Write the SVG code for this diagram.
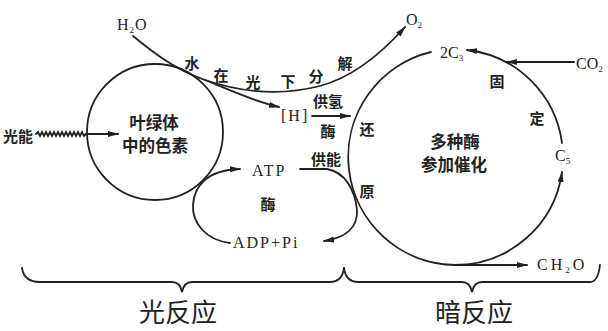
<svg xmlns="http://www.w3.org/2000/svg" width="608" height="331" viewBox="0 0 608 331">
<style>
.ln{fill:none;stroke:#222;stroke-width:1.8;stroke-linecap:round}
.ar{marker-end:url(#ah)}
.cn{font-family:"Noto Sans CJK SC","Noto Sans",sans-serif;fill:#222;text-anchor:middle;dominant-baseline:central;font-weight:700}
.big{font-family:"Noto Sans CJK SC","Noto Sans",sans-serif;fill:#222;text-anchor:middle;font-size:26px}
.lt{font-family:"Liberation Serif","Times New Roman",serif;fill:#222;font-size:16px}
</style>
<defs>
<marker id="ah" markerWidth="11" markerHeight="7" refX="10" refY="3.5" orient="auto" markerUnits="userSpaceOnUse">
<path d="M0,0.5 L11,3.5 L0,6.5 Z" fill="#222"/>
</marker>
</defs>
<rect width="608" height="331" fill="#fff"/>

<g id="chloroplast">
<circle cx="155" cy="132" r="68" class="ln"/>
<text class="cn" x="154" y="122" font-size="16.5">叶绿体</text>
<text class="cn" x="155" y="145" font-size="16.5">中的色素</text>
</g>

<g id="dark-cycle">
<text class="cn" x="455" y="141" font-size="16.5">多种酶</text>
<text class="cn" x="454" y="164" font-size="16.5">参加催化</text>
<text class="cn" x="497" y="80" font-size="15">固</text>
<text class="cn" x="537" y="117" font-size="15">定</text>
</g>

<g id="labels">
<text class="lt" x="117" y="30" letter-spacing="1">H<tspan font-size="9" dy="3">2</tspan><tspan dy="-3">O</tspan></text>
<text class="lt" x="406" y="25">O<tspan font-size="9" dy="3">2</tspan></text>
<text class="lt" x="440" y="58">2C<tspan font-size="9" dy="3">3</tspan></text>
<text class="lt" x="576" y="69">CO<tspan font-size="9" dy="3">2</tspan></text>
<text class="lt" x="555" y="161">C<tspan font-size="9" dy="3">5</tspan></text>
<text class="lt" x="537" y="270" letter-spacing="3">CH<tspan font-size="9" dy="3">2</tspan><tspan dy="-3">O</tspan></text>
<text class="lt" x="281" y="121" font-size="17" letter-spacing="2">[H]</text>
<text class="lt" x="252" y="176" font-size="17" letter-spacing="2">ATP</text>
<text class="lt" x="233" y="248" font-size="17" letter-spacing="2">ADP+Pi</text>
<text class="cn" x="18" y="135" font-size="15">光能</text>
<text class="cn" x="192" y="62" font-size="15">水</text>
<text class="cn" x="221" y="74" font-size="15">在</text>
<text class="cn" x="253" y="81" font-size="15">光</text>
<text class="cn" x="288" y="80" font-size="15">下</text>
<text class="cn" x="316" y="75" font-size="15">分</text>
<text class="cn" x="345" y="62" font-size="15">解</text>
<text class="cn" x="328" y="100" font-size="15">供氢</text>
<text class="cn" x="328" y="130" font-size="15">酶</text>
<text class="cn" x="326" y="158" font-size="15">供能</text>
<text class="cn" x="367" y="128" font-size="15">还</text>
<text class="cn" x="367" y="190" font-size="15">原</text>
<text class="cn" x="268" y="203" font-size="15">酶</text>
<text class="big" x="178" y="322">光反应</text>
<text class="big" x="474" y="322">暗反应</text>
</g>

<g id="connectors">
<polyline class="ln" stroke-width="1.3" points="36,134 38,132 40,136 42,132 44,136 46,132 48,136 50,132 52,136 54,132 56,136 58,132 60,136 62,132 64,136 66,132 68,136 70,132 72,136 74,132 76,136 78,132 80,136 82,132 84,136 86,134"/>
<path class="ln ar" d="M86,134 L118,134"/>
<path class="ln ar" d="M133,36 C150,50 175,70 205,80 C240,92 280,96 320,86 C350,78 380,55 405,27"/>
<path class="ln ar" d="M205,80 C230,90 255,102 279,107"/>
<path class="ln ar" d="M312,116 L350,116"/>
<path class="ln ar" d="M230,243 C205,240 192,222 193,205 C194,188 205,170 240,169"/>
<path class="ln ar" d="M300,169 L327,169 C345,172 355,190 357,210 C358,228 345,238 324,241"/>
<path class="ln" d="M431,52 A108,108 0 0 0 455,265"/>
<path class="ln ar" d="M455,265 L527,265"/>
<path class="ln ar" d="M455,265 A108,108 0 0 0 562,172"/>
<path class="ln ar" d="M562,143 A108,108 0 0 0 467,50"/>
<path class="ln ar" d="M574,62 L507,62"/>
<path class="ln" d="M22,268 Q24,282 40,282 L172,282 Q180,282 182,292 Q184,282 192,282 L330,282 Q342,282 344,268"/>
<path class="ln" d="M344,268 Q346,282 358,282 L462,282 Q470,282 472,292 Q474,282 482,282 L590,282 Q598,282 600,265"/>
</g>
</svg>
